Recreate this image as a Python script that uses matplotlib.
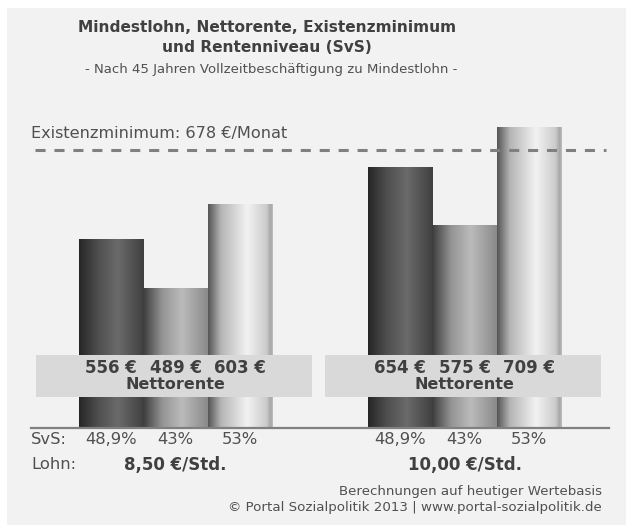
import numpy as np
import matplotlib
matplotlib.use("Agg")
import matplotlib.pyplot as plt
from matplotlib.colors import LinearSegmentedColormap
from matplotlib.patches import Rectangle

# ---------------- data ----------------
lohn_labels = ["8,50 €/Std.", "10,00 €/Std."]
nettorente_85 = [556, 489, 603]
nettorente_10 = [654, 575, 709]
svs_labels = ["48,9%", "43%", "53%"]
existenzminimum = 678
title_line1 = "Mindestlohn, Nettorente, Existenzminimum"
title_line2 = "und Rentenniveau (SvS)"
subtitle = "- Nach 45 Jahren Vollzeitbeschäftigung zu Mindestlohn -"
footer1 = "Berechnungen auf heutiger Wertebasis"
footer2 = "© Portal Sozialpolitik 2013 | www.portal-sozialpolitik.de"

values = [nettorente_85, nettorente_10]

# ---------------- style ----------------
W, H = 626, 525
fig = plt.figure(figsize=(W / 100, H / 100), dpi=100)
fig.patch.set_facecolor("white")
# light grey panel
fig.patches.append(Rectangle((7 / W, 0), 1 - 7 / W, 1 - 8 / H, transform=fig.transFigure,
                             facecolor="#f2f2f2", edgecolor="none", zorder=-10))

ax_left, ax_right = 31 / W, 609 / W
ax_bottom, ax_top = (H - 428) / H, (H - 110) / H
ax = fig.add_axes([ax_left, ax_bottom, ax_right - ax_left, ax_top - ax_bottom])
ax.set_facecolor("none")
for s in ax.spines.values():
    s.set_visible(False)
ax.set_xticks([])
ax.set_yticks([])

xlim = (-0.5, 1.5)
ylim = (298.6, 732.6)
bar_w = 0.222
offsets = [-1, 0, 1]

gradients = [
    [(0.0, "#262626"), (0.3, "#505050"), (0.6, "#6a6a6a"), (1.0, "#404040")],
    [(0.0, "#3c3c3c"), (0.3, "#959595"), (0.6, "#bbbbbb"), (1.0, "#8a8a8a")],
    [(0.0, "#555555"), (0.2, "#b5b5b5"), (0.6, "#f2f2f2"), (0.9, "#cccccc"), (0.97, "#a5a5a5"), (1.0, "#c0c0c0")],
]
cmaps = [LinearSegmentedColormap.from_list(f"g{i}", g) for i, g in enumerate(gradients)]
grad = np.linspace(0, 1, 256).reshape(1, -1)

for gi, vals in enumerate(values):
    xs = [gi + o * bar_w for o in offsets]
    bars = ax.bar(xs, vals, width=bar_w, bottom=0, color="none", edgecolor="none")
    for bi, b in enumerate(bars):
        x0 = b.get_x()
        ax.imshow(grad, cmap=cmaps[bi], extent=(x0, x0 + bar_w, ylim[0], b.get_height()),
                  aspect="auto", zorder=2, interpolation="bilinear")

ax.set_xlim(*xlim)
ax.set_ylim(*ylim)

# baseline
ax.axhline(ylim[0], color="#808080", lw=1.6, zorder=4, clip_on=False)
# Existenzminimum line
ax.axhline(existenzminimum, xmin=0.007, xmax=0.995, color="#808080", lw=2.2,
           dashes=(3.3, 2.9), zorder=3)
ax.text(0.0, 690, f"Existenzminimum: {existenzminimum} €/Monat",
        transform=ax.get_yaxis_transform(), ha="left", va="bottom",
        fontsize=11.6, color="#505050")

# Nettorente boxes
box_y0, box_y1 = 0.0975, 0.2296
for gi, vals in enumerate(values):
    bx0 = (gi - 0.481)
    bx1 = (gi + 0.474)
    rect = Rectangle((bx0, box_y0), bx1 - bx0, box_y1 - box_y0,
                     transform=ax.get_xaxis_transform(), facecolor="#d9d9d9",
                     edgecolor="none", zorder=5)
    ax.add_patch(rect)
    for bi, v in enumerate(vals):
        ax.text(gi + offsets[bi] * bar_w, 0.188, f"{v} €", transform=ax.get_xaxis_transform(),
                ha="center", va="center", fontsize=12, fontweight="bold", color="#404040", zorder=6)
    ax.text(gi, 0.136, "Nettorente", transform=ax.get_xaxis_transform(),
            ha="center", va="center", fontsize=11.5, fontweight="bold", color="#404040", zorder=6)
    # SvS and Lohn labels
    for bi, s in enumerate(svs_labels):
        ax.text(gi + offsets[bi] * bar_w, -0.036, s, transform=ax.get_xaxis_transform(),
                ha="center", va="center", fontsize=11.8, color="#505050")
    ax.text(gi, -0.115, lohn_labels[gi], transform=ax.get_xaxis_transform(),
            ha="center", va="center", fontsize=12, fontweight="bold", color="#404040")

ax.text(0.0, -0.036, "SvS:", transform=ax.transAxes, ha="left", va="center",
        fontsize=11.8, color="#505050")
ax.text(0.0, -0.115, "Lohn:", transform=ax.transAxes, ha="left", va="center",
        fontsize=11.8, color="#505050")

# titles
fig.text(267 / W, 1 - 28 / H, title_line1, ha="center", va="center", fontsize=11.1,
         fontweight="bold", color="#404040")
fig.text(267 / W, 1 - 48 / H, title_line2, ha="center", va="center", fontsize=11.1,
         fontweight="bold", color="#404040")
fig.text(271 / W, 1 - 70 / H, subtitle, ha="center", va="center", fontsize=9.5,
         color="#505050")

# footer
fig.text(602 / W, 1 - 492 / H, footer1, ha="right", va="center", fontsize=9.6, color="#505050")
fig.text(602 / W, 1 - 507 / H, footer2, ha="right", va="center", fontsize=9.6, color="#505050")

fig.savefig("out.png", dpi=100, facecolor=fig.get_facecolor())
